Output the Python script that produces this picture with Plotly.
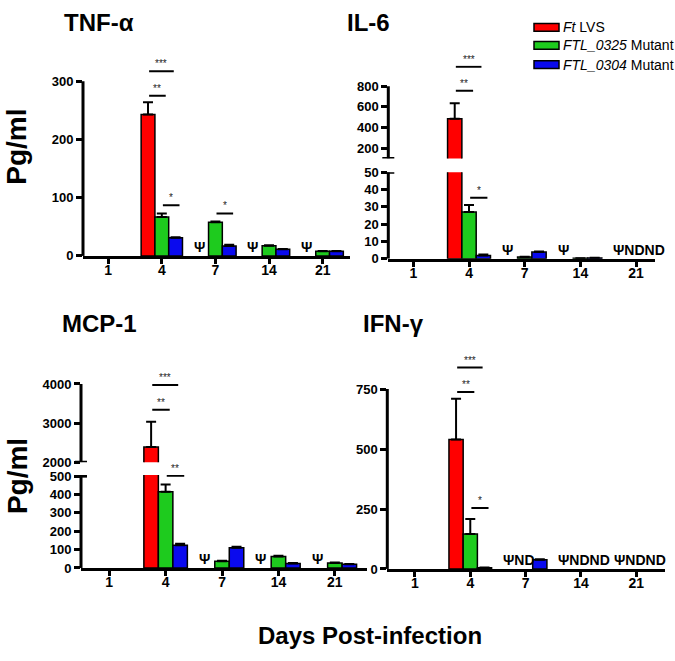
import plotly.graph_objects as go

W, H = 675, 661

# ---------------- data ----------------
days = ['1', '4', '7', '14', '21']
series_names = ['<i>Ft</i> LVS', '<i>FTL_0325</i> Mutant', '<i>FTL_0304</i> Mutant']
colors = ['#FF0000', '#1ECB1E', '#0A0AEE']

tnf_lvs = [None, 243, None, None, None]
tnf_lvs_err = [0, 21, 0, 0, 0]
tnf_0325 = [None, 67, 58, 17.5, 8]
tnf_0325_err = [0, 6, 1, 1, 0.5]
tnf_0304 = [None, 31, 17, 11.5, 8]
tnf_0304_err = [0, 1, 2, 0.5, 0.5]
tnf_marks = ['', '', 'Ψ', 'Ψ', 'Ψ']

il6_lvs = [None, 485, None, None, None]
il6_lvs_err = [0, 150, 0, 0, 0]
il6_0325 = [None, 27, 1, 0.3, None]
il6_0325_err = [0, 4, 0.2, 0, 0]
il6_0304 = [None, 2, 4, 0.5, None]
il6_0304_err = [0, 0.5, 0.3, 0.1, 0]
il6_marks = ['', '', 'Ψ', 'Ψ', 'ΨNDND']

mcp_lvs = [None, 2390, None, None, None]
mcp_lvs_err = [0, 640, 0, 0, 0]
mcp_0325 = [None, 415, 36, 62, 27]
mcp_0325_err = [0, 40, 3, 4, 3]
mcp_0304 = [None, 124, 110, 25, 20]
mcp_0304_err = [0, 8, 5, 2, 2]
mcp_marks = ['', '', 'Ψ', 'Ψ', 'Ψ']

ifn_lvs = [None, 540, None, None, None]
ifn_lvs_err = [0, 170, 0, 0, 0]
ifn_0325 = [None, 146, None, None, None]
ifn_0325_err = [0, 62, 0, 0, 0]
ifn_0304 = [None, 5, 38, None, None]
ifn_0304_err = [0, 1, 2, 0, 0]
ifn_marks = ['', '', 'ΨND', 'ΨNDND', 'ΨNDND']

# significance: (day index, from series, to series, level, stars)
tnf_sig = [(1, 0, 2, 317, '***'), (1, 0, 1, 275, '**'), (1, 1, 2, 87, '*'), (2, 1, 2, 73, '*')]
il6_sig_upper = [(1, 0, 2, 989, '***'), (1, 0, 1, 756, '**')]
il6_sig_lower = [(1, 1, 2, 35.3, '*')]
mcp_sig_upper = [(1, 0, 2, 3975, '***'), (1, 0, 1, 3342, '**')]
mcp_sig_lower = [(1, 1, 2, 502, '**')]
ifn_sig = [(1, 0, 2, 840, '***'), (1, 0, 1, 738, '**'), (1, 1, 2, 254, '*')]

# ---------------- layout helpers ----------------
FONT = 'Liberation Sans, Arial, sans-serif'
BW = 0.257  # bar width in category units


def dx(a, b):
    return [a / W, b / W]


def dy(top, bot):
    return [1 - bot / H, 1 - top / H]


fig = go.Figure()
shapes = []
annotations = []

xs = list(range(len(days)))


def add_bars(vals_list, errs_list, xa, ya, which=(0, 1, 2)):
    for s in which:
        vals = vals_list[s]
        err = errs_list[s]
        fig.add_trace(go.Bar(
            x=xs, y=vals, width=BW, offset=(-1.5 + s) * BW,
            marker=dict(color=colors[s], line=dict(color='black', width=1.5)),
            error_y=dict(type='data', array=err, arrayminus=[0] * len(err), symmetric=False,
                         color='black', thickness=2, width=5),
            xaxis=xa, yaxis=ya, showlegend=False, name=series_names[s], hoverinfo='skip'))


def add_marks(marks, xa, ya):
    for i, m in enumerate(marks):
        if m:
            annotations.append(dict(x=i - 1.5 * BW - 0.06, y=0, xref=xa, yref=ya, xanchor='left',
                                    yanchor='bottom', text=m, showarrow=False, yshift=-1,
                                    font=dict(family=FONT, size=14, color='black', weight='bold')))


def add_sig(sigs, xa, ya):
    for day, a, b, lvl, stars in sigs:
        x0 = day + (-1 + a) * BW + 0.02
        x1 = x0 + (0.31 if b - a == 1 else 0.46)
        shapes.append(dict(type='line', xref=xa, yref=ya, x0=x0, x1=x1, y0=lvl, y1=lvl,
                           line=dict(color='black', width=2)))
        annotations.append(dict(x=(x0 + x1) / 2, y=lvl, xref=xa, yref=ya, text=stars, showarrow=False,
                                xanchor='center', yanchor='bottom', yshift=0,
                                font=dict(family=FONT, size=10, color='#222')))


def yline(xa, ya, y0, y1):
    shapes.append(dict(type='line', xref=xa + ' domain', yref=ya, x0=0, x1=0, y0=y0, y1=y1,
                       line=dict(color='black', width=3)))


def break_tick(xa, ya, yv):
    shapes.append(dict(type='line', xref=xa + ' domain', yref=ya, xsizemode='pixel', xanchor=0,
                       x0=-6, x1=6, y0=yv, y1=yv, line=dict(color='black', width=3)))


# TNF
add_bars([tnf_lvs, tnf_0325, tnf_0304], [tnf_lvs_err, tnf_0325_err, tnf_0304_err], 'x', 'y')
add_marks(tnf_marks, 'x', 'y')
add_sig(tnf_sig, 'x', 'y')
yline('x', 'y', 0, 300)

# IL-6 (broken)
add_bars([il6_lvs, il6_0325, il6_0304], [[0] * 5, il6_0325_err, il6_0304_err], 'x2', 'y2')
add_bars([il6_lvs, il6_0325, il6_0304], [il6_lvs_err, il6_0325_err, il6_0304_err], 'x3', 'y3', which=(0,))
add_marks(il6_marks, 'x2', 'y2')
add_sig(il6_sig_lower, 'x2', 'y2')
add_sig(il6_sig_upper, 'x3', 'y3')
yline('x2', 'y2', 0, 50)
yline('x3', 'y3', 100, 800)
break_tick('x2', 'y2', 50)
break_tick('x3', 'y3', 100)

# MCP-1 (broken)
add_bars([mcp_lvs, mcp_0325, mcp_0304], [[0] * 5, mcp_0325_err, mcp_0304_err], 'x4', 'y4')
add_bars([mcp_lvs, mcp_0325, mcp_0304], [mcp_lvs_err, mcp_0325_err, mcp_0304_err], 'x5', 'y5', which=(0,))
add_marks(mcp_marks, 'x4', 'y4')
add_sig(mcp_sig_lower, 'x4', 'y4')
add_sig(mcp_sig_upper, 'x5', 'y5')
yline('x4', 'y4', 0, 500)
yline('x5', 'y5', 2000, 4000)
break_tick('x4', 'y4', 500)
break_tick('x5', 'y5', 2000)

# IFN
add_bars([ifn_lvs, ifn_0325, ifn_0304], [ifn_lvs_err, ifn_0325_err, ifn_0304_err], 'x6', 'y6')
add_marks(ifn_marks, 'x6', 'y6')
add_sig(ifn_sig, 'x6', 'y6')
yline('x6', 'y6', 0, 750)


def xax(dom, rng, anchor, visible=True):
    d = dict(domain=dom, range=rng, anchor=anchor, tickmode='array', tickvals=xs, ticktext=days,
             showline=True, linecolor='black', linewidth=3, ticks='outside', ticklen=5, tickwidth=3,
             tickcolor='black', tickfont=dict(family=FONT, size=14, color='black', weight='bold'),
             ticklabelstandoff=-6,
             showgrid=False, zeroline=False, fixedrange=True)
    if not visible:
        d['visible'] = False
    return d


def yax(dom, rng, anchor, tickvals):
    return dict(domain=dom, range=rng, anchor=anchor, tickmode='array', tickvals=tickvals,
                showline=False, ticks='outside', ticklen=6, tickwidth=3, tickcolor='black',
                tickfont=dict(family=FONT, size=13, color='black', weight='bold'),
                showgrid=False, zeroline=False, fixedrange=True)


fig.update_layout(
    width=W, height=H, margin=dict(l=0, r=0, t=0, b=0),
    paper_bgcolor='white', plot_bgcolor='white', barmode='overlay', showlegend=False,
    hovermode=False,
    xaxis=xax(dx(83, 350), [-0.47, 4.51], 'y'),
    yaxis=yax(dy(58.1, 254.7), [0, 330], 'x', [0, 100, 200, 300]),
    xaxis2=xax(dx(388.3, 655), [-0.45, 4.34], 'y2'),
    yaxis2=yax(dy(169, 257.7), [0, 50], 'x2', [0, 10, 20, 30, 40, 50]),
    xaxis3=xax(dx(388.3, 655), [-0.45, 4.34], 'y3', visible=False),
    yaxis3=yax(dy(59.9, 155), [100, 1000], 'x3', [200, 400, 600, 800]),
    xaxis4=xax(dx(81, 367), [-0.5, 4.57], 'y4'),
    yaxis4=yax(dy(478.9, 574), [0, 506], 'x4', [0, 100, 200, 300, 400, 500]),
    xaxis5=xax(dx(81, 367), [-0.5, 4.57], 'y5', visible=False),
    yaxis5=yax(dy(381.7, 465.7), [2000, 4100], 'x5', [2000, 3000, 4000]),
    xaxis6=xax(dx(387.3, 665), [-0.5, 4.52], 'y6'),
    yaxis6=yax(dy(364, 575), [0, 860], 'x6', [0, 250, 500, 750]),
)


# titles and labels (paper coords)
def ptxt(text, x, y, size, bold=True, angle=0, xanchor='center'):
    annotations.append(dict(x=x / W, y=1 - y / H, xref='paper', yref='paper', text=text, showarrow=False,
                            xanchor=xanchor, yanchor='middle', textangle=angle,
                            font=dict(family=FONT, size=size, color='black',
                                      weight='bold' if bold else 'normal')))


ptxt('TNF-α', 99, 16, 24)
ptxt('IL-6', 368, 16, 24)
ptxt('MCP-1', 99.5, 324, 24)
ptxt('IFN-γ', 393.5, 324, 24)
ptxt('Pg/ml', 17, 143, 28, angle=-90)
ptxt('Pg/ml', 17, 480, 28, angle=-90)
ptxt('Days Post-infection', 370, 643, 24)

# legend (manual)
legend_rows = [20.8, 39.2, 59]
for s, yrow in enumerate(legend_rows):
    shapes.append(dict(type='rect', xref='paper', yref='paper', x0=534 / W, x1=559 / W,
                       y0=1 - (yrow + 4) / H, y1=1 - (yrow - 4) / H,
                       fillcolor=colors[s], line=dict(color='black', width=1.5)))
    ptxt(series_names[s], 561, yrow, 14, bold=False, xanchor='left')

fig.update_layout(shapes=shapes, annotations=annotations)
fig.write_html('out.html', config={'displayModeBar': False, 'staticPlot': True},
               post_script="document.body.style.margin='0px';document.body.style.overflow='hidden';")
